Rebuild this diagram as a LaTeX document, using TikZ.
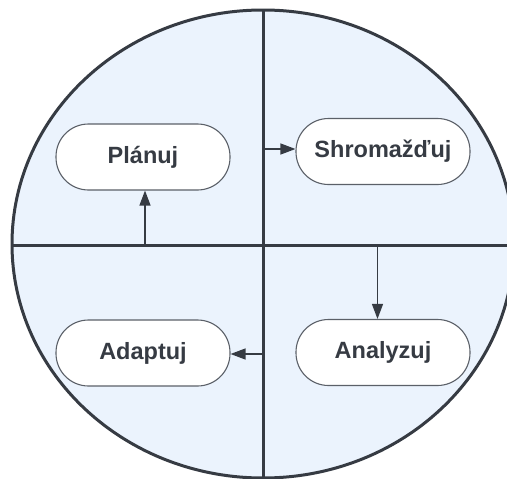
\documentclass[tikz,border=0pt]{standalone}
\usepackage{fontspec}
\setmainfont{Liberation Sans}
\usetikzlibrary{arrows.meta}
\definecolor{fillblue}{HTML}{EBF3FD}
\definecolor{ink}{HTML}{363B43}
\definecolor{boxline}{HTML}{5B6068}
\begin{document}
\begin{tikzpicture}[x=1pt,y=-1pt,
  stage/.style={draw=boxline, line width=1.1pt, fill=white, rounded corners=32.5pt,
    minimum width=174pt, minimum height=66pt, inner sep=0pt,
    font=\fontsize{23.5}{28}\selectfont\bfseries, text=ink},
  divider/.style={draw=ink, line width=3pt},
  flow/.style={draw=ink, line width=1.3pt, -{Triangle[length=15pt,width=11pt]}}]
\useasboundingbox (0,0) rectangle (507,479);
\begin{scope}
  \clip (0,0) rectangle (507,479);
  % the cycle disc and its two dividing lines
  \draw[fill=fillblue, draw=ink, line width=3pt] (263,244) ellipse [x radius=251, y radius=234];
  \coordinate (top) at (263,10);
  \coordinate (bot) at (263,480);
  \coordinate (lft) at (12,245);
  \coordinate (rgt) at (508,245);
  \draw[divider] (top) -- (bot);
  \draw[divider] (lft) -- (rgt);
\end{scope}
% the four stages
\node[stage] (plan)  at (143,157) {Plánuj};
\node[stage] (shrom) at (383,151.5) {Shromažďuj};
\node[stage] (adapt) at (143,353) {Adaptuj};
\node[stage] (anal)  at (383,352.5) {Analyzuj};
% arrows leaving the dividers
\coordinate (v1) at (263,149);
\coordinate (h1) at (377.5,247);
\coordinate (v2) at (263,354);
\coordinate (h2) at (145,244);
\draw[flow] (v1) -- (v1 -| shrom.west);
\draw[flow] (h1) -- (h1 |- anal.north);
\draw[flow] (v2) -- (v2 -| adapt.east);
\draw[flow] (h2) -- (h2 |- plan.south);
\end{tikzpicture}
\end{document}
